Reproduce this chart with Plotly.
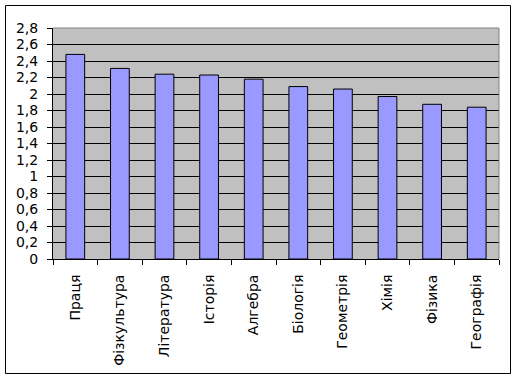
import plotly.graph_objects as go

categories = ["Праця", "Фізкультура", "Література", "Історія", "Алгебра",
              "Біологія", "Геометрія", "Хімія", "Фізика", "Географія"]
values = [2.48, 2.31, 2.24, 2.23, 2.18, 2.09, 2.06, 1.97, 1.875, 1.84]
y_tickvals = [0, 0.2, 0.4, 0.6, 0.8, 1, 1.2, 1.4, 1.6, 1.8, 2, 2.2, 2.4, 2.6, 2.8]
y_ticktext = ["0", "0,2", "0,4", "0,6", "0,8", "1", "1,2", "1,4", "1,6", "1,8",
              "2", "2,2", "2,4", "2,6", "2,8"]

W, H = 514, 375
ml, mr, mt, mb = 53, 15, 28, 116
pw, ph = W - ml - mr, H - mt - mb
FONT = "DejaVu Sans"
FS = 14

fig = go.Figure(go.Bar(
    x=categories, y=values,
    marker=dict(color="#9999FF", line=dict(color="black", width=1)),
))

def px_x(x):
    return (x - ml) / pw

def px_y(y):
    return (H - mb - y) / ph

fig.update_layout(
    template="none",
    width=W, height=H,
    margin=dict(l=ml, r=mr, t=mt, b=mb, pad=0),
    paper_bgcolor="white",
    plot_bgcolor="#C0C0C0",
    font=dict(family=FONT, size=FS, color="black"),
    bargap=0.58,
    showlegend=False,
    xaxis=dict(
        automargin=False,
        tickangle=-90, ticks="outside", ticklen=5, tickcolor="black", tickwidth=1,
        tickson="boundaries", showline=True, linecolor="black", linewidth=1,
        showgrid=False, ticklabelstandoff=9, zeroline=False,
        tickfont=dict(family=FONT, size=FS, color="black"),
    ),
    yaxis=dict(
        automargin=False,
        range=[0, 2.8], tickvals=y_tickvals, ticktext=y_ticktext,
        ticks="outside", ticklen=5, tickcolor="black", tickwidth=1,
        showline=True, linecolor="black", linewidth=1,
        showgrid=True, gridcolor="black", gridwidth=1,
        zeroline=False, ticklabelstandoff=6,
        tickfont=dict(family=FONT, size=FS, color="black"),
    ),
    shapes=[
        dict(type="line", xref="paper", yref="paper", x0=0, x1=1, y0=1, y1=1,
             line=dict(color="#808080", width=1)),
        dict(type="line", xref="paper", yref="paper", x0=1, x1=1, y0=0, y1=1,
             line=dict(color="#808080", width=1)),
        dict(type="rect", xref="paper", yref="paper",
             x0=px_x(5.5), x1=px_x(510.5), y0=px_y(373.5), y1=px_y(5.5),
             line=dict(color="black", width=1)),
    ],
)

fig.write_html("out.html", config={"displayModeBar": False},
               post_script="document.body.style.margin='0';document.body.style.overflow='hidden';")
